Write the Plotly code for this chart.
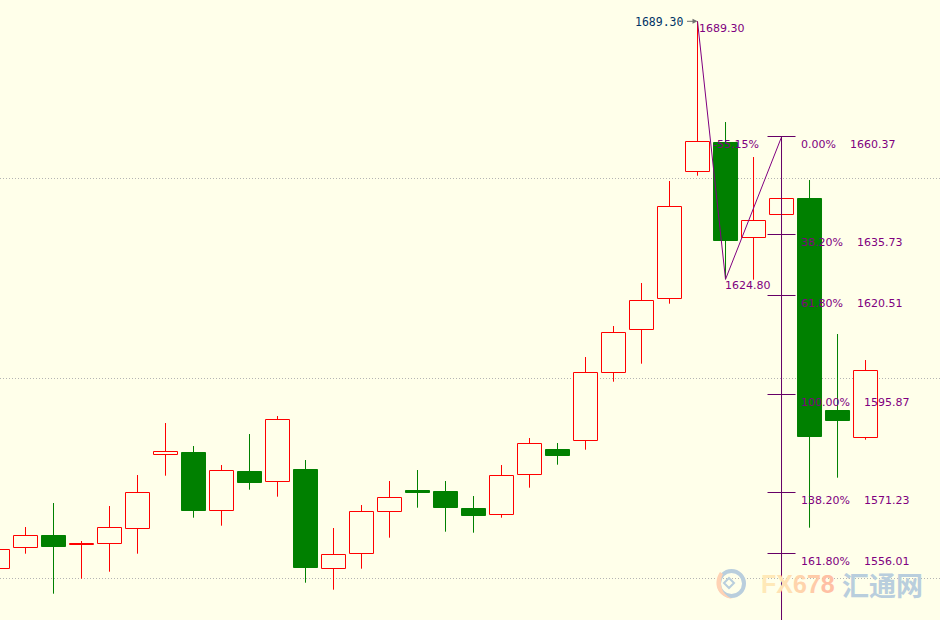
import plotly.graph_objects as go

# candles, left to right
bars = list(range(32))
opens = [1552.50, 1557.75, 1560.75, 1558.50, 1558.75, 1562.50, 1581.00, 1581.50,
         1567.00, 1576.75, 1574.25, 1577.25, 1552.50, 1556.25, 1566.75, 1572.00,
         1571.75, 1567.50, 1566.00, 1576.00, 1582.25, 1584.50, 1601.50, 1612.25,
         1620.00, 1651.75, 1659.00, 1635.25, 1641.00, 1645.00, 1592.00, 1585.25]
highs = [1557.25, 1562.87, 1568.87, 1559.37, 1568.12, 1575.87, 1588.87, 1583.12,
         1578.37, 1586.12, 1590.62, 1579.62, 1562.62, 1568.37, 1574.37, 1577.12,
         1574.37, 1570.62, 1578.37, 1585.12, 1583.87, 1605.37, 1613.12, 1623.87,
         1649.37, 1689.30, 1664.12, 1655.37, 1645.00, 1649.62, 1611.12, 1604.62]
lows = [1552.50, 1556.20, 1546.20, 1549.95, 1551.70, 1556.20, 1575.70, 1565.20,
        1563.20, 1572.20, 1570.45, 1548.95, 1547.20, 1552.45, 1560.20, 1567.70,
        1561.70, 1561.45, 1565.20, 1572.70, 1578.45, 1582.20, 1599.20, 1603.70,
        1618.70, 1650.70, 1624.80, 1624.70, 1641.00, 1562.70, 1575.20, 1584.70]
closes = [1557.25, 1560.75, 1558.00, 1558.75, 1562.75, 1571.50, 1581.75, 1567.00,
          1577.00, 1574.00, 1589.75, 1552.75, 1556.00, 1566.75, 1570.25, 1571.50,
          1567.75, 1565.75, 1575.75, 1583.75, 1580.75, 1601.50, 1611.50, 1619.50,
          1643.00, 1659.25, 1634.50, 1639.50, 1645.00, 1585.50, 1589.50, 1602.00]

# swing drawn over the candles
swing_x = [25, 26, 28]
swing_y = [1689.30, 1624.80, 1660.37]

# fibonacci levels, labels and where the ticks sit on the chart
fib_bar = 28
fib_pct = ['0.00%', '38.20%', '61.80%', '100.00%', '138.20%', '161.80%']
fib_price = ['1660.37', '1635.73', '1620.51', '1595.87', '1571.23', '1556.01']
fib_level = [1660.50, 1636.00, 1620.75, 1596.00, 1571.50, 1556.25]
fib_floor = 1530

grid_prices = [1550, 1600, 1650]

W = 940
H = 620
PURPLE = '#800080'
FIB_LINE = '#660066'
BG = '#FFFFEA'
WM_BLUE = '#B9CEDD'
UP = '#FF0000'
DOWN = '#008000'


def px_path(points):
    # watermark logo is placed in picture pixels
    parts = []
    for p in points:
        if isinstance(p, str):
            parts.append(p)
        else:
            parts.append('%.5f,%.5f' % (p[0] / W, 1 - p[1] / H))
    return ' '.join(parts)


fig = go.Figure()

# bodies as floating bars, wicks as lines above and below them
for color, fill, is_up in [(UP, BG, True), (DOWN, DOWN, False)]:
    idx = [i for i in bars if (closes[i] > opens[i]) == is_up]
    fig.add_trace(go.Bar(x=idx,
                         y=[abs(closes[i] - opens[i]) for i in idx],
                         base=[min(closes[i], opens[i]) for i in idx],
                         width=24 / 28,
                         marker=dict(color=fill, line=dict(color=color, width=1))))
    wick_x = []
    wick_y = []
    for i in idx:
        wick_x += [i, i, None, i, i, None]
        wick_y += [highs[i], max(opens[i], closes[i]), None, min(opens[i], closes[i]), lows[i], None]
    fig.add_trace(go.Scatter(x=wick_x, y=wick_y, mode='lines', line=dict(color=color, width=1)))

# zigzag
fig.add_trace(go.Scatter(x=swing_x, y=swing_y, mode='lines',
                         line=dict(color=PURPLE, width=1)))

# fib stem and ticks
fig.add_trace(go.Scatter(x=[fib_bar, fib_bar], y=[fib_level[0], fib_floor], mode='lines',
                         line=dict(color=FIB_LINE, width=1)))
fig.add_trace(go.Scatter(x=[fib_bar] * len(fib_level), y=fib_level, mode='markers',
                         marker=dict(symbol='line-ew', size=20, color=FIB_LINE,
                                     line=dict(color=FIB_LINE, width=1))))

label_font = dict(family='DejaVu Sans', size=11, color=PURPLE)

for pct, price, level in zip(fib_pct, fib_price, fib_level):
    fig.add_annotation(x=fib_bar, y=level, text=pct + '    ' + price,
                       showarrow=False, xanchor='left', yanchor='middle',
                       xshift=17, yshift=-7.5, font=label_font)

# swing labels
fig.add_annotation(x=swing_x[0], y=swing_y[0], text='%.2f' % swing_y[0], showarrow=False,
                   xanchor='left', yanchor='middle', xshift=-1, yshift=-7, font=label_font)
fig.add_annotation(x=swing_x[1], y=swing_y[1], text='%.2f' % swing_y[1], showarrow=False,
                   xanchor='left', yanchor='middle', xshift=-3, yshift=-6, font=label_font)
fig.add_annotation(x=swing_x[1], y=fib_level[0], text='-55.15%', showarrow=False,
                   xanchor='left', yanchor='middle', xshift=-15, yshift=-7.5, font=label_font)

# high marker on the left of the spike
fig.add_annotation(x=swing_x[0], y=swing_y[0], text='1689.30', showarrow=False,
                   xanchor='right', yanchor='middle', xshift=-12, yshift=-1,
                   font=dict(family='DejaVu Sans Mono', size=11.5, color='#003366'))
fig.add_annotation(x=swing_x[0], y=swing_y[0], ax=-12, ay=0, text='', showarrow=True,
                   arrowhead=2, arrowsize=1, arrowwidth=1, arrowcolor='#707070', standoff=0)

# watermark
fx_colors = ['#FFE9B8', '#FFE2B4', '#FFD4AC', '#FFCBA8', '#FFC0A4']
fx_text = ''.join('<span style="color:%s">%s</span>' % (c, t) for c, t in zip(fx_colors, 'FX678'))
fig.add_annotation(xref='paper', yref='paper', x=759 / W, y=1 - 584 / H, text=fx_text,
                   showarrow=False, xanchor='left', yanchor='middle',
                   font=dict(family='Liberation Sans', size=25, color='#FFD8A8', weight='bold'))
fig.add_annotation(xref='paper', yref='paper', x=840 / W, y=1 - 584 / H, text='汇通网',
                   showarrow=False, xanchor='left', yanchor='middle',
                   font=dict(family='Noto Sans CJK SC', size=27, color=WM_BLUE, weight='bold'))
fig.add_shape(type='circle', xref='paper', yref='paper', x0=719 / W, x1=744 / W,
              y0=1 - 596 / H, y1=1 - 571 / H, line=dict(color=WM_BLUE, width=4))
fig.add_shape(type='path', xref='paper', yref='paper', line=dict(width=0), fillcolor='#FFD2B4',
              path=px_path(['M', (720, 572), 'C', (713, 582), (716, 597), (733, 599),
                            'C', (722, 595), (718, 584), (723, 574), 'Z']))
fig.add_shape(type='path', xref='paper', yref='paper', line=dict(color=WM_BLUE, width=2),
              path=px_path(['M', (729, 578), 'L', (734, 583), 'L', (729, 588), 'L', (724, 583), 'Z']))

fig.update_layout(
    width=W, height=H,
    margin=dict(l=0, r=0, t=0, b=0),
    paper_bgcolor=BG, plot_bgcolor=BG,
    showlegend=False,
    barmode='overlay',
    xaxis=dict(range=[0.0893, 33.66], visible=False),
    yaxis=dict(range=[1539.625, 1694.625], tickvals=grid_prices, showticklabels=False,
               showgrid=True, gridcolor='#B4B4B4', griddash='1px,2px', gridwidth=1,
               zeroline=False, showline=False),
)

fig.write_html("out.html", config=dict(displayModeBar=False),
               post_script="document.body.style.margin='0';")
